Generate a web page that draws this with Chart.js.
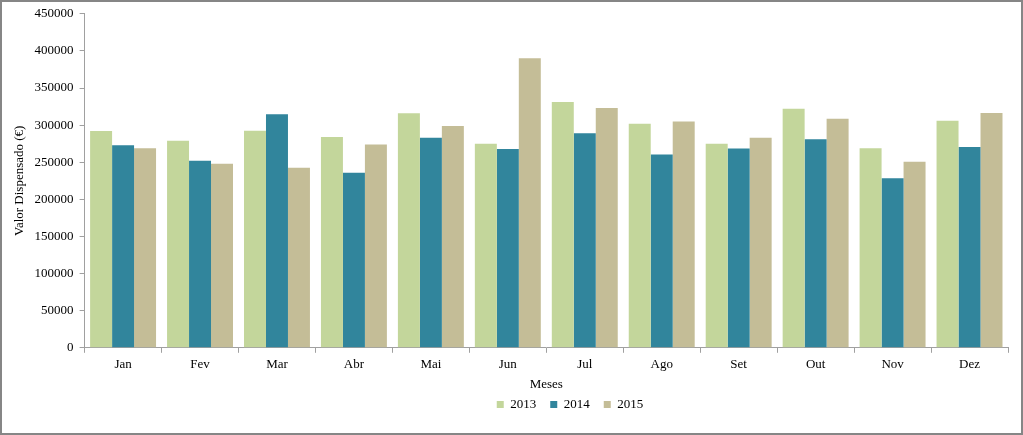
<!DOCTYPE html>
<html>
<head>
<meta charset="utf-8">
<script src="https://cdn.jsdelivr.net/npm/chart.js@4/dist/chart.umd.min.js"></script>
<style>
html,body{margin:0;padding:0;background:#fff;}
#wrap{position:relative;width:1023px;height:435px;}
</style>
</head>
<body>
<div id="wrap"><canvas id="c" width="1023" height="435"></canvas></div>
<script>
const months = ["Jan","Fev","Mar","Abr","Mai","Jun","Jul","Ago","Set","Out","Nov","Dez"];
const v2013 = [292000,279000,292500,284000,316000,275000,331000,302000,275000,322000,269000,306000];
const v2014 = [273000,252000,314500,236000,283000,268000,289000,260500,268500,281000,228500,270500];
const v2015 = [269000,248000,242500,274000,299000,390000,323000,305000,283000,308500,250500,316500];
const seriesNames = ["2013","2014","2015"];
const colors = ["#C3D69B","#31859C","#C4BD97"];

const framePlugin = {
  id:'frame',
  afterLayout(chart){
    // center the legend under the plot like the reference
    const lg = chart.legend;
    if (lg) { const dx = 60; lg.left += dx; lg.right += dx; }
  },
  afterDraw(chart){
    const ctx = chart.ctx;
    ctx.save();
    ctx.strokeStyle = '#868686';
    ctx.lineWidth = 2;
    ctx.strokeRect(1,1,chart.width-2,chart.height-2);
    ctx.restore();
  }
};
const font = {family:"'Liberation Serif', 'Times New Roman', serif", size:13};
new Chart(document.getElementById('c'), {
  type:'bar',
  data:{
    labels: months,
    datasets: [v2013,v2014,v2015].map((d,i)=>({
      label: seriesNames[i], data: d, backgroundColor: colors[i],
      borderWidth:0, categoryPercentage:0.857, barPercentage:1.0
    }))
  },
  options:{
    responsive:false, animation:false,
    layout:{padding:{left:12,right:15,top:11,bottom:14}},
    plugins:{
      legend:{position:'bottom', labels:{font:font, color:'#000', boxWidth:7, boxHeight:7, padding:14}},
      tooltip:{enabled:false}
    },
    scales:{
      x:{
        grid:{drawOnChartArea:false, drawTicks:true, tickLength:5, color:'#A0A0A0', offset:true},
        border:{color:'#A0A0A0'},
        ticks:{font:font, color:'#000', padding:4},
        title:{display:true, text:'Meses', font:font, color:'#000', padding:{top:0,bottom:-8}}
      },
      y:{
        min:0, max:450000,
        grid:{drawOnChartArea:false, drawTicks:true, tickLength:5, color:'#A0A0A0'},
        border:{color:'#A0A0A0'},
        ticks:{font:font, color:'#000', stepSize:50000, padding:6, callback:v=>String(v)},
        title:{display:true, text:'Valor Dispensado (€)', font:font, color:'#000', padding:{top:0,bottom:1}}
      }
    }
  },
  plugins:[framePlugin]
});
</script>
</body>
</html>
